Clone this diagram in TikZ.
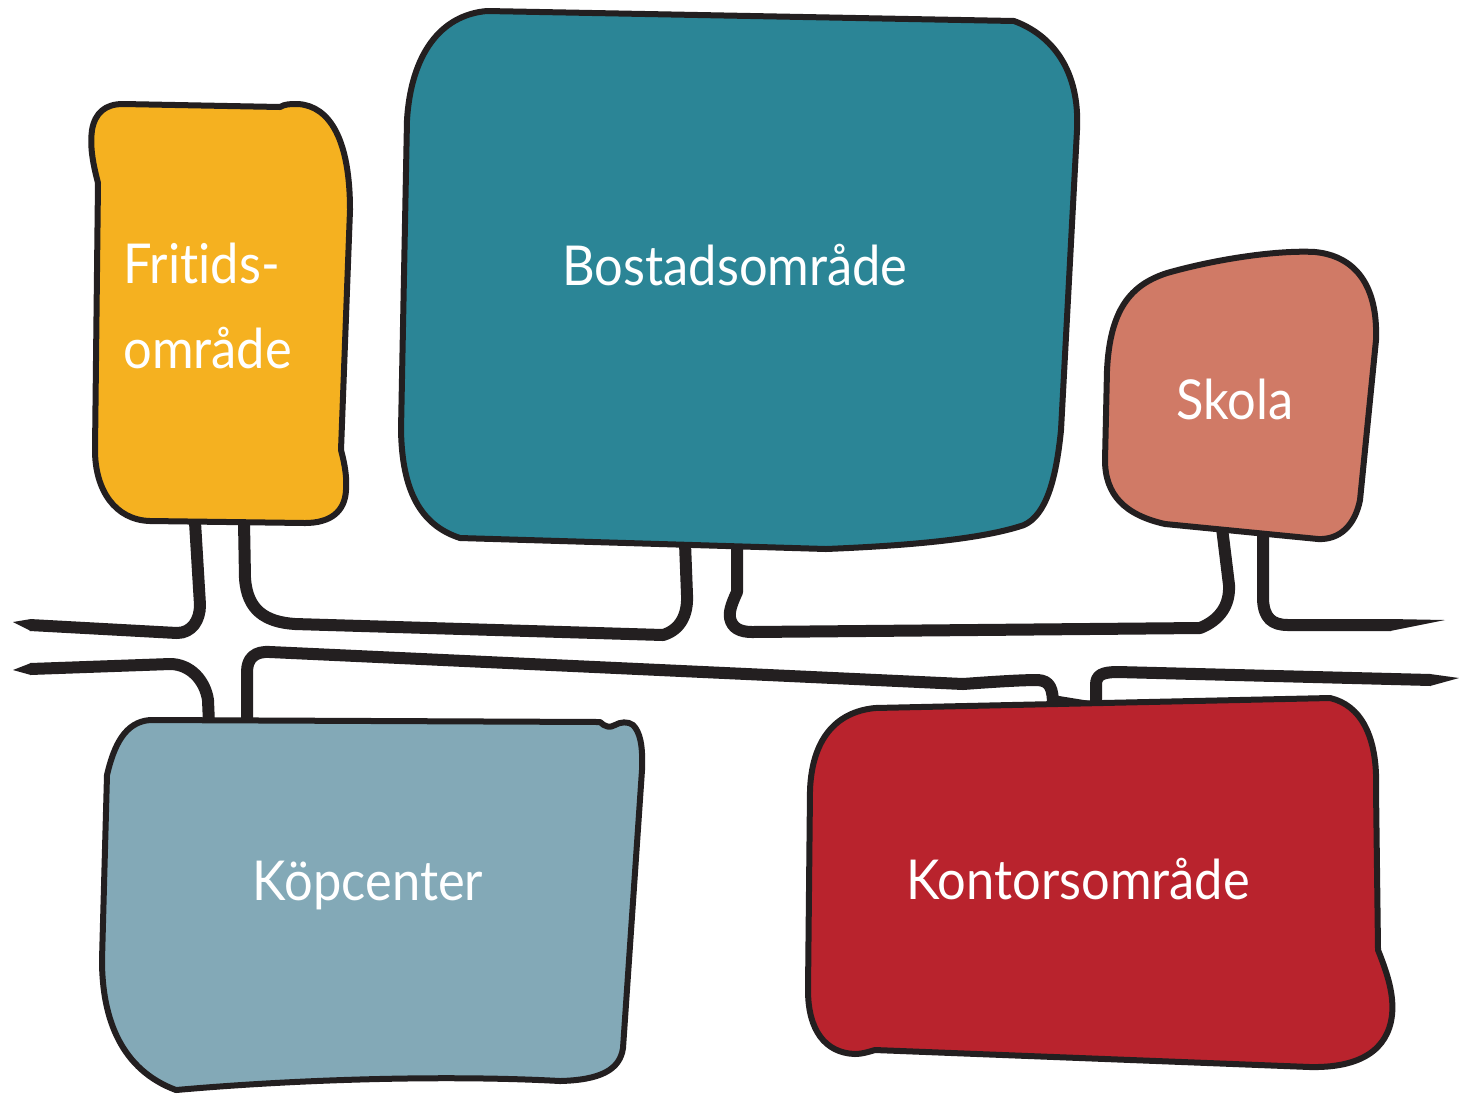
\documentclass[tikz,border=0pt]{standalone}
\usepackage{fontspec}
\newfontfamily\lblfont[FakeStretch=0.92,Ligatures={NoCommon,NoRare}]{Lato}
\definecolor{ink}{HTML}{231F20}
\definecolor{cyellow}{HTML}{F5B120}
\definecolor{cteal}{HTML}{2B8596}
\definecolor{csalmon}{HTML}{D07A66}
\definecolor{clblue}{HTML}{83A9B7}
\definecolor{cred}{HTML}{B9232D}
\tikzset{
  blob/.style={draw=ink, line width=3pt, line join=round},
  road/.style={draw=ink, line width=6pt, line join=round, line cap=butt},
  roadtip/.style={fill=ink, draw=none},
  lbl/.style={text=white, font=\lblfont\fontsize{27.5}{33}\selectfont, inner sep=0pt}
}
\begin{document}
\begin{tikzpicture}[x=0.5pt,y=-0.5pt]
\useasboundingbox[fill=white] (0,0) rectangle (1459,1093);

% ---------- roads (upper edge) ----------
\draw[road] (30,625) -- (177,633) .. controls (192,633) and (200,620) .. (200,605) -- (195,522);
\fill[roadtip] (31,619) -- (13,622) -- (31,631) -- cycle;
\draw[road] (244,522) -- (245,578) .. controls (247,610) and (265,622) .. (295,624) -- (663,635) .. controls (680,630) and (688,615) .. (687,595) -- (685,543);
\draw[road] (737,545) -- (737,592) .. controls (731,605) and (729,612) .. (730,618) .. controls (732,628) and (740,632) .. (752,632) -- (1200,628) .. controls (1220,620) and (1230,605) .. (1229,585) -- (1222,528);
\draw[road] (1263,531) -- (1263,600) .. controls (1264,618) and (1272,625) .. (1288,625) -- (1391,625);
\fill[roadtip] (1390,619) -- (1445,620) -- (1390,631) -- cycle;

% ---------- roads (lower edge) ----------
\draw[road] (30,669) -- (170,664) .. controls (190,664) and (205,680) .. (208,700) -- (209,724);
\fill[roadtip] (31,663) -- (13,670) -- (31,675) -- cycle;
\draw[road] (247,724) -- (247,672) .. controls (247,658) and (255,651) .. (270,652) -- (963,684) .. controls (990,682) and (1020,680) .. (1038,680) .. controls (1050,681) and (1053,688) .. (1053,706);
\fill[roadtip] (1053,695) -- (1090,701) -- (1053,703) -- cycle;
\draw[road] (1096,706) -- (1096,685) .. controls (1096,675) and (1102,672) .. (1118,672) -- (1431,680);
\fill[roadtip] (1430,674) -- (1459,678) -- (1430,686) -- cycle;

% ---------- blobs ----------
% Fritidsomrade
\draw[blob, fill=cyellow] (123,104) -- (280,107) .. controls (285,104) and (290,104) .. (298,104)
  .. controls (330,106) and (350,140) .. (350,210) -- (341,450)
  .. controls (345,465) and (347,478) .. (346,490)
  .. controls (345,512) and (330,523) .. (305,523) -- (150,521)
  .. controls (115,520) and (95,490) .. (95,450) -- (98,183)
  .. controls (92,160) and (90,145) .. (92,130)
  .. controls (95,113) and (105,104) .. (123,104) -- cycle;
% Bostadsomrade
\draw[blob, fill=cteal] (487,11) -- (1014,21)
  .. controls (1052,35) and (1080,70) .. (1077,130) -- (1061,430)
  .. controls (1056,480) and (1046,515) .. (1024,525)
  .. controls (980,540) and (900,546) .. (826,549) -- (460,538)
  .. controls (420,525) and (402,490) .. (401,430) -- (407,120)
  .. controls (411,55) and (440,15) .. (487,11) -- cycle;
% Skola
\draw[blob, fill=csalmon] (1167,273) .. controls (1220,258) and (1280,250) .. (1315,252)
  .. controls (1355,256) and (1378,285) .. (1376,340) -- (1360,500)
  .. controls (1355,525) and (1340,540) .. (1318,539) -- (1165,524)
  .. controls (1125,515) and (1105,495) .. (1105,460) -- (1107,370)
  .. controls (1110,310) and (1130,285) .. (1167,273) -- cycle;
% Kopcenter
\draw[blob, fill=clblue] (150,720) -- (600,722) .. controls (605,727) and (610,728) .. (615,725)
  .. controls (620,722) and (628,721) .. (633,725)
  .. controls (640,732) and (643,745) .. (642,770) -- (623,1048)
  .. controls (620,1070) and (600,1080) .. (560,1081)
  .. controls (450,1075) and (300,1079) .. (176,1090)
  .. controls (122,1070) and (102,1020) .. (102,960) -- (107,775)
  .. controls (114,745) and (125,722) .. (150,720) -- cycle;
% Kontorsomrade
\draw[blob, fill=cred] (875,708) -- (1330,698)
  .. controls (1360,705) and (1378,735) .. (1376,790) -- (1378,950)
  .. controls (1388,975) and (1394,995) .. (1392,1015)
  .. controls (1388,1050) and (1360,1068) .. (1310,1067) -- (875,1050)
  .. controls (868,1052) and (862,1054) .. (855,1054)
  .. controls (825,1053) and (808,1030) .. (808,990) -- (810,790)
  .. controls (812,740) and (835,712) .. (875,708) -- cycle;

% ---------- labels ----------
\node[lbl, anchor=base west] (fritidsA) at (123,283) {Fritids-};
\node[lbl, anchor=base west] (fritidsB) at (123,368) {område};
\node[lbl, anchor=base] (bostad) at (735,285) {Bostadsområde};
\node[lbl, anchor=base] (skola) at (1235,419) {Skola};
\node[lbl, anchor=base] (kop) at (368,900) {Köpcenter};
\node[lbl, anchor=base] (kontor) at (1078,899) {Kontorsområde};
\end{tikzpicture}
\end{document}
